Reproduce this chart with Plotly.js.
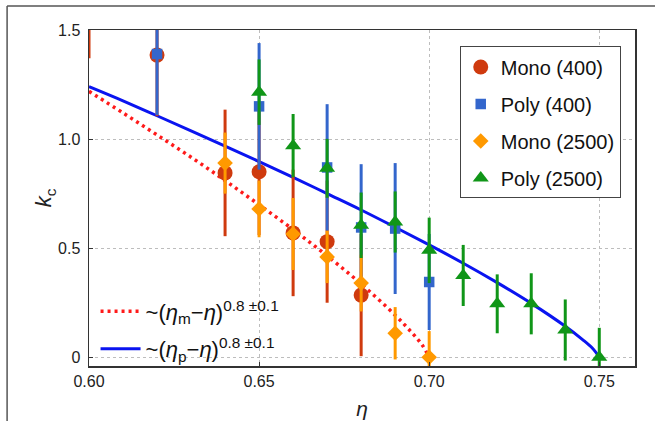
<!DOCTYPE html>
<html>
<head>
<meta charset="utf-8">
<script src="https://cdn.plot.ly/plotly-3.0.1.min.js"></script>
<style>
html,body{margin:0;padding:0;background:#fff;}
#chart{width:655px;height:421px;}
</style>
</head>
<body>
<div id="chart"></div>
<script>
// ---- data ----
const monoSmallX = [0.60, 0.62, 0.64, 0.65, 0.66, 0.67, 0.68];
const monoSmallY = [1.66, 1.385, 0.845, 0.85, 0.57, 0.53, 0.285];
const monoSmallErr = [0.29, 0.28, 0.29, 0.29, 0.29, 0.28, 0.28];

const polySmallX = [0.62, 0.65, 0.67, 0.68, 0.69, 0.70];
const polySmallY = [1.39, 1.15, 0.87, 0.595, 0.59, 0.345];
const polySmallErr = [0.28, 0.29, 0.29, 0.29, 0.30, 0.22];

const monoLargeX = [0.64, 0.65, 0.66, 0.67, 0.68, 0.69, 0.70];
const monoLargeY = [0.89, 0.68, 0.565, 0.46, 0.34, 0.11, 0.0];
const monoLargeErr = [0.14, 0.13, 0.165, 0.12, 0.13, 0.12, 0.12];

const polyLargeX = [0.65, 0.66, 0.67, 0.68, 0.69, 0.70, 0.71, 0.72, 0.73, 0.74, 0.75];
const polyLargeY = [1.215, 0.97, 0.866, 0.605, 0.62, 0.49, 0.375, 0.245, 0.245, 0.125, 0.0];
const polyLargeErr = [0.15, 0.145, 0.135, 0.15, 0.14, 0.15, 0.14, 0.135, 0.14, 0.14, 0.135];

// fit curves
const fitMonoX = [0.60, 0.61, 0.62, 0.63, 0.64, 0.65, 0.66, 0.67, 0.68, 0.69, 0.695, 0.698, 0.70];
const fitMonoY = [1.219, 1.120, 1.019, 0.917, 0.810, 0.699, 0.585, 0.465, 0.336, 0.193, 0.111, 0.055, 0.0];
const fitPolyX = [0.60, 0.61, 0.62, 0.63, 0.64, 0.65, 0.66, 0.67, 0.68, 0.69, 0.70, 0.71, 0.72, 0.73, 0.74, 0.745, 0.748, 0.75];
const fitPolyY = [1.24, 1.175, 1.107, 1.038, 0.968, 0.897, 0.825, 0.750, 0.675, 0.596, 0.515, 0.431, 0.342, 0.247, 0.142, 0.082, 0.041, 0.0];

const seriesNames = ['Mono (400)', 'Poly (400)', 'Mono (2500)', 'Poly (2500)'];
const fitNames = ['~(<i>η</i><sub>m</sub>−<i>η</i>)<sup>0.8 ±0.1</sup>', '~(<i>η</i><sub>p</sub>−<i>η</i>)<sup>0.8 ±0.1</sup>'];
const xTicks = [0.60, 0.65, 0.70, 0.75];
const xTickText = ['0.60', '0.65', '0.70', '0.75'];
const yTicks = [0, 0.5, 1.0, 1.5];
const yTickText = ['0', '0.5', '1.0', '1.5'];

const RED = '#cf3a0e', BLUE = '#3366cc', ORANGE = '#ff9900', GREEN = '#109618';
const FONT = '"Liberation Sans", Arial, Helvetica, sans-serif';

function pts(x, y, err, name, color, symbol, size, grp) {
  return {
    type: 'scatter', mode: 'markers', x: x, y: y, name: name,
    legend: 'legend', legendgroup: grp,
    marker: {color: color, symbol: symbol, size: size, line: {width: 0}},
    error_y: {type: 'data', array: err, visible: true, color: color, thickness: 3, width: 0}
  };
}

const traces = [
  {type: 'scatter', mode: 'lines', x: fitMonoX, y: fitMonoY, name: fitNames[0],
   legend: 'legend2', legendgroup: 'f1',
   line: {color: '#ff1a1a', width: 3.5, dash: '3px,4px', shape: 'spline', smoothing: 1}},
  {type: 'scatter', mode: 'lines', x: fitPolyX, y: fitPolyY, name: fitNames[1],
   legend: 'legend2', legendgroup: 'f2',
   line: {color: '#0a14f0', width: 3, shape: 'spline', smoothing: 1}},
  pts(monoSmallX, monoSmallY, monoSmallErr, seriesNames[0], RED, 'circle', 15, 'g1'),
  pts(polySmallX, polySmallY, polySmallErr, seriesNames[1], BLUE, 'square', 10.5, 'g2'),
  pts(monoLargeX, monoLargeY, monoLargeErr, seriesNames[2], ORANGE, 'diamond', 12, 'g3'),
  pts(polyLargeX, polyLargeY, polyLargeErr, seriesNames[3], GREEN, 'triangle-up', 14, 'g4')
];

const layout = {
  width: 655, height: 421,
  margin: {l: 89, r: 20, t: 30, b: 55},
  paper_bgcolor: '#fff', plot_bgcolor: '#fff',
  font: {family: FONT, size: 16, color: '#222'},
  showlegend: true,
  xaxis: {
    range: [0.60, 0.7605], tickvals: xTicks, ticktext: xTickText,
    showline: true, mirror: true, linecolor: '#333', linewidth: 1.5,
    ticks: 'inside', ticklen: 4, tickcolor: '#333',
    showgrid: true, gridcolor: '#bdbdbd', griddash: 'dot', gridwidth: 1,
    zeroline: false,
    tickfont: {size: 16, family: FONT, color: '#222'},
    title: {text: '<i>η</i>', font: {size: 21, family: FONT, color: '#222'}, standoff: 12}
  },
  yaxis: {
    range: [-0.04, 1.5], tickvals: yTicks, ticktext: yTickText,
    showline: true, mirror: true, linecolor: '#333', linewidth: 1.5,
    ticks: 'inside', ticklen: 4, tickcolor: '#333',
    showgrid: true, gridcolor: '#bdbdbd', griddash: 'dot', gridwidth: 1,
    zeroline: false, ticklabelstandoff: 4,
    tickfont: {size: 16, family: FONT, color: '#222'},
    title: {text: '<i>k</i><sub>c</sub>', font: {size: 22, family: FONT, color: '#222'}, standoff: 0}
  },
  legend: {
    x: 0.679, y: 0.951, xanchor: 'left', yanchor: 'top',
    bgcolor: '#fff', bordercolor: '#444', borderwidth: 1,
    font: {size: 20, family: FONT, color: '#111'},
    traceorder: 'grouped', tracegroupgap: 8, itemsizing: 'trace'
  },
  legend2: {
    x: 0.012, y: 0.225, xanchor: 'left', yanchor: 'top',
    bgcolor: 'rgba(0,0,0,0)', borderwidth: 0,
    font: {size: 22, family: FONT, color: '#111'},
    traceorder: 'grouped', tracegroupgap: 6, itemwidth: 40
  },
  shapes: [
    {type: 'line', xref: 'paper', yref: 'paper', x0: -0.150, x1: 1.05, y0: 1.0714, y1: 1.0714,
     line: {color: '#555', width: 1.5}},
    {type: 'line', xref: 'paper', yref: 'paper', x0: -0.150, x1: -0.150, y0: 1.0714, y1: -0.2,
     line: {color: '#555', width: 1.5}}
  ]
};

Plotly.newPlot('chart', traces, layout, {staticPlot: true, displayModeBar: false});
</script>
</body>
</html>
